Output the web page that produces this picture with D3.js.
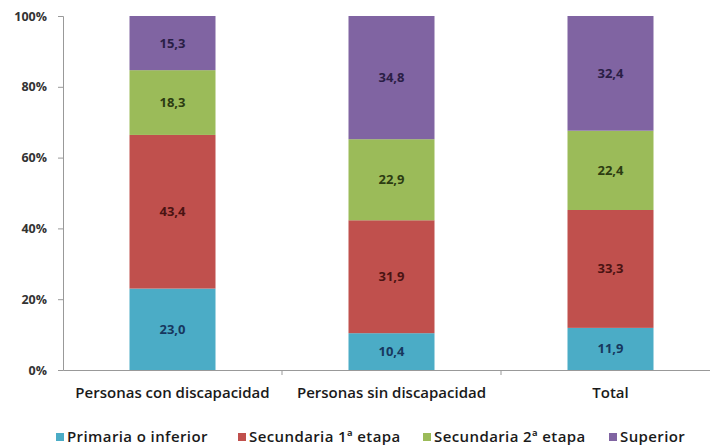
<!DOCTYPE html>
<html><head><meta charset="utf-8">
<script src="https://cdn.jsdelivr.net/npm/d3@7"></script>
<style>body{margin:0;background:#fff;} svg{display:block;}</style>
</head><body><svg id="c" width="710" height="447"></svg>
<script>
const categories = ["Personas con discapacidad", "Personas sin discapacidad", "Total"];
const seriesNames = ["Primaria o inferior", "Secundaria 1ª etapa", "Secundaria 2ª etapa", "Superior"];
const primaria = [23.0, 10.4, 11.9];
const secundaria1 = [43.4, 31.9, 33.3];
const secundaria2 = [18.3, 22.9, 22.4];
const superior = [15.3, 34.8, 32.4];
const yTicks = [0, 20, 40, 60, 80, 100];
const colors = ["#4BACC6", "#C0504D", "#9BBB59", "#8064A2"];
const labelColors = ["#17375E", "#4A1312", "#2C3B12", "#2A1E45"];

const values = [primaria, secundaria1, secundaria2, superior];
const rows = categories.map((c, i) => {
  const r = {cat: c};
  seriesNames.forEach((s, j) => r[s] = values[j][i]);
  return r;
});
const stack = d3.stack().keys(seriesNames)(rows);

const svg = d3.select("#c");
const font = "'Open Sans', Lato, sans-serif";
const x = d3.scaleBand().domain(categories).range([63, 720]).paddingInner(0).paddingOuter(0);
const y = d3.scaleLinear().domain([0, 100]).range([370, 16]);
const barW = 86;

// bars
stack.forEach((layer, j) => {
  const g = svg.append("g");
  layer.forEach((d, i) => {
    const cx = x(categories[i]) + x.bandwidth() / 2;
    g.append("rect")
      .attr("x", cx - barW / 2).attr("width", barW)
      .attr("y", y(d[1])).attr("height", y(d[0]) - y(d[1]))
      .attr("fill", colors[j]);
    g.append("text")
      .attr("x", cx).attr("y", (y(d[0]) + y(d[1])) / 2)
      .attr("dy", "0.35em").attr("text-anchor", "middle")
      .attr("font-family", font).attr("font-weight", 700).attr("font-size", 13)
      .attr("fill", labelColors[j])
      .text(d3.format(".1f")(values[j][i]).replace(".", ","));
  });
});

// y axis
const yAxis = d3.axisLeft(y).tickValues(yTicks).tickFormat(d => d + "%").tickSize(5).tickPadding(11);
const ya = svg.append("g").attr("transform", "translate(63,0)").call(yAxis);
ya.select(".domain").attr("stroke", "#999");
ya.selectAll(".tick line").attr("stroke", "#999");
ya.selectAll("text").attr("font-family", font).attr("font-weight", 700).attr("font-size", 12.5).attr("fill", "#333");

// x axis
const xa = svg.append("g").attr("transform", "translate(0,370)")
  .call(d3.axisBottom(x).tickSize(0).tickPadding(17));
xa.select(".domain").attr("stroke", "#999");
xa.selectAll("text").attr("font-family", font).attr("font-weight", 600).attr("font-size", 15).attr("fill", "#1a1a1a");
// category boundary ticks
xa.selectAll(".bnd").data(categories.slice(1)).enter().append("line")
  .attr("x1", d => x(d)).attr("x2", d => x(d)).attr("y1", 0).attr("y2", 5).attr("stroke", "#999");

// legend
const legX = [56, 238, 423, 609];
const leg = svg.append("g").attr("transform", "translate(0,437)");
seriesNames.forEach((s, j) => {
  leg.append("rect").attr("x", legX[j]).attr("y", -4).attr("width", 8).attr("height", 8).attr("fill", colors[j]);
  leg.append("text").attr("x", legX[j] + 11).attr("y", 0).attr("dy", "0.35em")
    .attr("font-family", font).attr("font-weight", 600).attr("font-size", 15)
    .attr("letter-spacing", 0.4).attr("fill", "#1a1a1a").text(s);
});
</script></body></html>
